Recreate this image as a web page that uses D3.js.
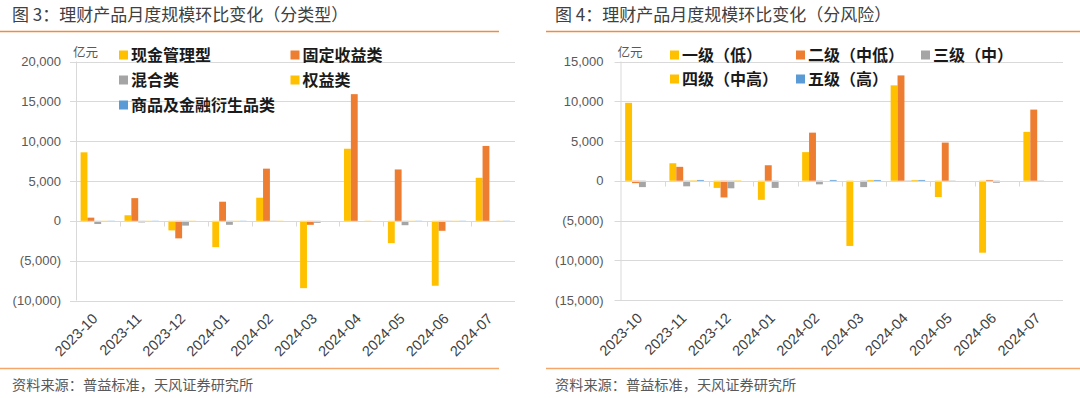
<!DOCTYPE html>
<html>
<head>
<meta charset="utf-8">
<script src="https://cdn.jsdelivr.net/npm/d3@7"></script>
<style>
  body { margin: 0; background: #fff; }
  svg { display: block; }
</style>
</head>
<body>
<svg id="chart" width="1080" height="398"></svg>
<script>
// months shared by both panels
var months = ['2023-10','2023-11','2023-12','2024-01','2024-02','2024-03','2024-04','2024-05','2024-06','2024-07'];

// panel 1: by product type (亿元)
var typeNames = ['现金管理型','固定收益类','混合类','权益类','商品及金融衍生品类'];
var cashMgmt  = [8600, 700, -1200, -3300, 2900, -8450, 9050, -2800, -8150, 5400];
var fixedInc  = [400, 2850, -2200, 2400, 6550, -500, 15900, 6450, -1250, 9400];
var mixed     = [-400, -200, -600, -500, -50, -250, 0, -550, -50, 0];
var equity    = [-100, -100, -100, -100, -100, 0, -100, -100, -100, -100];
var commodity = [-100, -50, 0, -100, 0, 0, 0, -100, -100, -100];
var typeTicks = [-10000, -5000, 0, 5000, 10000, 15000, 20000];

// panel 2: by risk level (亿元)
var riskNames = ['一级（低）','二级（中低）','三级（中）','四级（中高）','五级（高）'];
var risk1 = [9800, 2200, -900, -2400, 3600, -8200, 12000, -2050, -9050, 6150];
var risk2 = [-300, 1750, -2100, 1950, 6050, 0, 13250, 4800, 100, 8950];
var risk3 = [-800, -700, -950, -900, -450, -800, -100, -100, -250, -100];
var risk4 = [0, 50, 50, 0, 0, 100, 100, 0, 0, 0];
var risk5 = [0, 100, 0, 0, 100, 100, 100, 0, 0, 0];
var riskTicks = [-15000, -10000, -5000, 0, 5000, 10000, 15000];

var colors = ['#FFC000', '#ED7D31', '#A5A5A5', '#FFC000', '#5B9BD5'];

var svg = d3.select('#chart');
var cnFont = '"Noto Sans CJK SC", "Noto Sans", sans-serif';
var numFont = '"Liberation Sans", Arial, sans-serif';

function fmt(v){
    var s = d3.format(',')(Math.abs(v));
    return v < 0 ? '(' + s + ')' : s;
}

function drawPanel(p){
    var g = svg.append('g');

    // title + rules
    g.append('text')
        .attr('x', p.titleX).attr('y', 21)
        .attr('font-family', cnFont).attr('font-size', '17px')
        .attr('fill', '#404040')
        .text(p.title);
    g.append('line')
        .attr('x1', p.ruleX0).attr('x2', p.ruleX1).attr('y1', 31.5).attr('y2', 31.5)
        .attr('stroke', '#F08C3C').attr('stroke-width', 1.5);
    g.append('line')
        .attr('x1', p.ruleX0).attr('x2', p.ruleX1).attr('y1', 368.5).attr('y2', 368.5)
        .attr('stroke', '#F4A769').attr('stroke-width', 1.5);
    g.append('text')
        .attr('x', p.titleX).attr('y', 390)
        .attr('font-family', cnFont).attr('font-size', '14.2px')
        .attr('fill', '#595959')
        .text('资料来源：普益标准，天风证券研究所');

    var x = d3.scaleBand().domain(months).range([p.left, p.right]);
    var y = d3.scaleLinear().domain(d3.extent(p.ticks)).range([p.bottom, p.top]);
    var bw = x.bandwidth();
    var x1 = d3.scaleBand().domain(d3.range(p.series.length))
        .range([bw * 0.105, bw * 0.885]);

    // gridlines
    g.append('g').selectAll('line').data(p.ticks).join('line')
        .attr('x1', p.left - 6).attr('x2', p.right)
        .attr('y1', d => Math.round(y(d)) + 0.5).attr('y2', d => Math.round(y(d)) + 0.5)
        .attr('stroke', '#D9D9D9').attr('stroke-width', 1);
    // value axis line
    g.append('line')
        .attr('x1', p.left + 0.5).attr('x2', p.left + 0.5)
        .attr('y1', y(p.ticks[p.ticks.length - 1])).attr('y2', p.bottom)
        .attr('stroke', '#D9D9D9');

    // y labels
    g.append('g').selectAll('text').data(p.ticks).join('text')
        .attr('x', p.left - p.labelGap).attr('y', d => y(d) + 4.5)
        .attr('text-anchor', 'end')
        .attr('font-family', numFont).attr('font-size', '13px')
        .attr('fill', '#595959')
        .text(fmt);

    // bars
    p.series.forEach(function(vals, si){
        g.append('g').selectAll('rect').data(vals).join('rect')
            .attr('x', (d, i) => x(months[i]) + x1(si))
            .attr('width', x1.bandwidth())
            .attr('y', d => y(Math.max(0, d)))
            .attr('height', d => Math.abs(y(d) - y(0)))
            .attr('fill', colors[si]);
    });

    // category axis at zero
    var y0 = Math.round(y(0)) + 0.5;
    g.append('line')
        .attr('x1', p.left).attr('x2', p.right).attr('y1', y0).attr('y2', y0)
        .attr('stroke', '#D9D9D9');
    g.append('g').selectAll('line').data(months.slice(1)).join('line')
        .attr('x1', d => Math.round(x(d)) + 0.5).attr('x2', d => Math.round(x(d)) + 0.5)
        .attr('y1', y0).attr('y2', y0 + 5)
        .attr('stroke', '#D9D9D9');

    // x labels, rotated
    g.append('g').selectAll('text').data(months).join('text')
        .attr('transform', d => `translate(${x(d) + bw / 2 + 0.5}, ${p.bottom + 19}) rotate(-45)`)
        .attr('text-anchor', 'end')
        .attr('font-family', numFont).attr('font-size', '14.5px')
        .attr('fill', '#404040')
        .text(d => d);

    // unit
    g.append('text')
        .attr('x', p.left - 3).attr('y', 57)
        .attr('font-family', cnFont).attr('font-size', '12.5px')
        .attr('fill', '#595959')
        .text('亿元');

    // legend
    p.names.forEach(function(n, i){
        var pos = p.legendPos[i];
        g.append('rect')
            .attr('x', pos[0]).attr('y', pos[1] - 4.5)
            .attr('width', 9).attr('height', 9)
            .attr('fill', colors[i]);
        g.append('text')
            .attr('x', pos[0] + 12).attr('y', pos[1] + 6)
            .attr('font-family', cnFont).attr('font-size', '16px')
            .attr('font-weight', 'bold')
            .attr('fill', '#1a1a1a')
            .text(n);
    });
}

drawPanel({
    title: '图 3：理财产品月度规模环比变化（分类型）',
    titleX: 12, ruleX0: 0, ruleX1: 499,
    left: 76, right: 515, top: 61.5, bottom: 300.5,
    labelGap: 15,
    ticks: typeTicks,
    names: typeNames,
    series: [cashMgmt, fixedInc, mixed, equity, commodity],
    legendPos: [[119, 55], [290.5, 55], [119, 80], [290.5, 80], [119, 105]]
});

drawPanel({
    title: '图 4：理财产品月度规模环比变化（分风险）',
    titleX: 555, ruleX0: 546, ruleX1: 1080,
    left: 620.5, right: 1063, top: 61.5, bottom: 300,
    labelGap: 17,
    ticks: riskTicks,
    names: riskNames,
    series: [risk1, risk2, risk3, risk4, risk5],
    legendPos: [[670, 55], [796, 55], [921, 55], [670, 79], [796, 79]]
});
</script>
</body>
</html>
